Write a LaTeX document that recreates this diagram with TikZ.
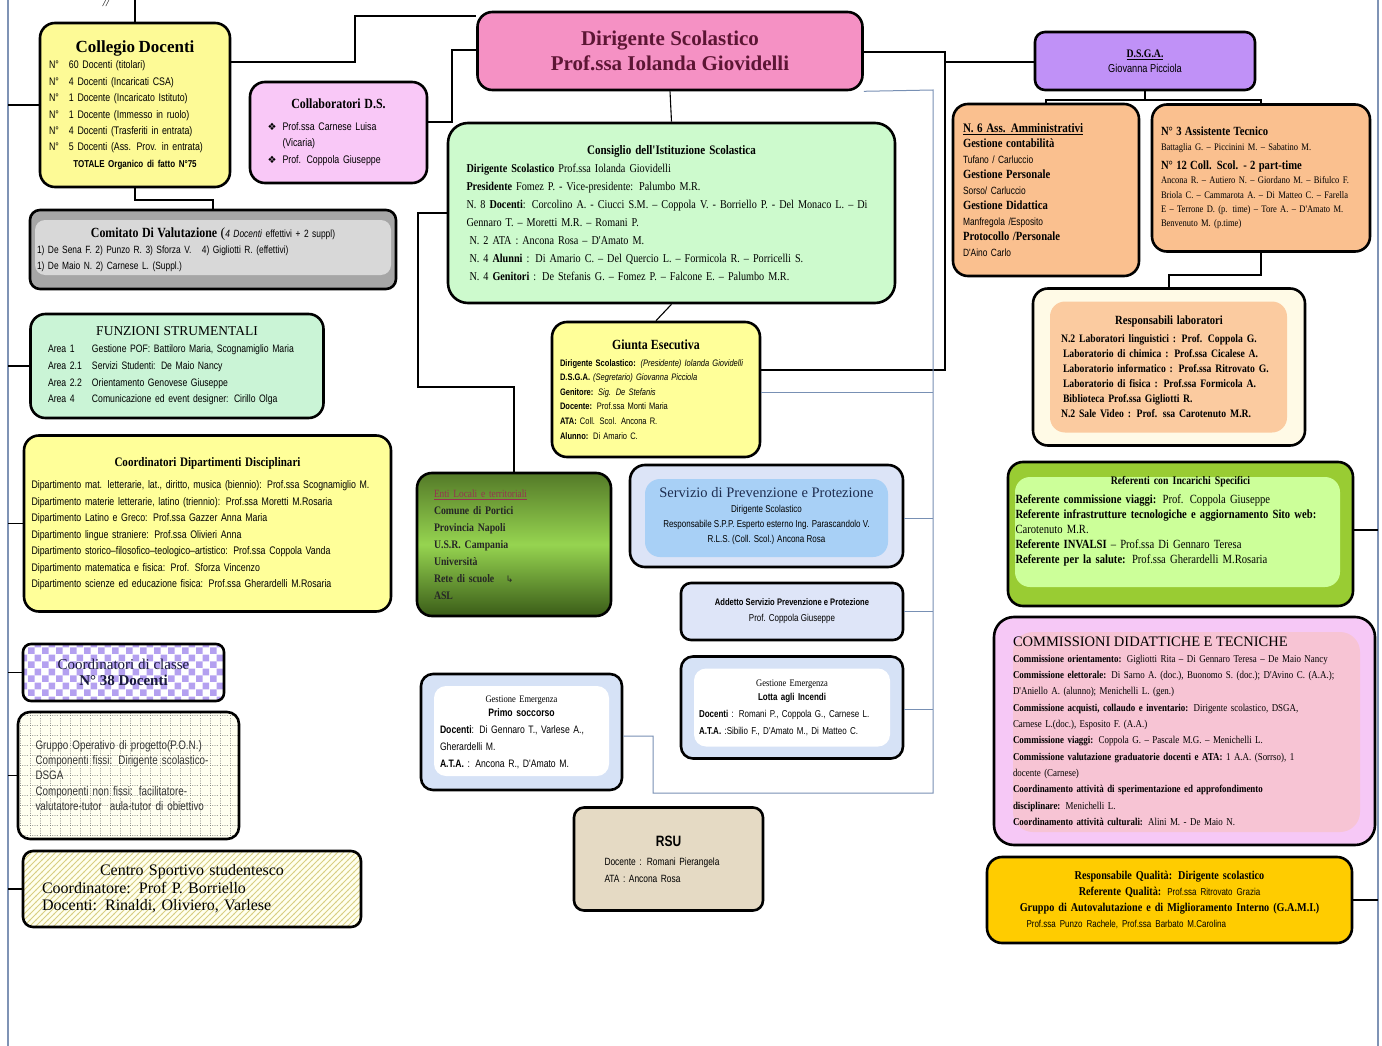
\documentclass[tikz,border=0pt]{standalone}
\usepackage{fontspec}
\setmainfont{Liberation Serif}
\newfontfamily\nsans[FakeStretch=0.8]{Liberation Sans}
\newfontfamily\nserif[FakeStretch=0.85]{Liberation Serif}
\newfontfamily\symf{DejaVu Sans}
\usepackage{tikz}
\usetikzlibrary{patterns.meta}

\definecolor{collyel}{RGB}{253,250,150}
\definecolor{dspink}{RGB}{245,145,196}
\definecolor{dsred}{RGB}{92,22,52}
\definecolor{collabpk}{RGB}{249,200,247}
\definecolor{dsgavi}{RGB}{192,145,247}
\definecolor{grayout}{RGB}{166,166,166}
\definecolor{grayin}{RGB}{216,216,216}
\definecolor{consgr}{RGB}{205,250,205}
\definecolor{peach}{RGB}{250,192,143}
\definecolor{labout}{RGB}{255,250,230}
\definecolor{labin}{RGB}{251,203,160}
\definecolor{funzgr}{RGB}{202,244,214}
\definecolor{yel}{RGB}{255,255,153}
\definecolor{entitop}{RGB}{84,122,40}
\definecolor{entimid}{RGB}{150,212,80}
\definecolor{entibot}{RGB}{58,92,24}
\definecolor{entititle}{RGB}{150,50,80}
\definecolor{sppout}{RGB}{220,228,247}
\definecolor{sppin}{RGB}{168,208,246}
\definecolor{sppnavy}{RGB}{30,45,80}
\definecolor{addbl}{RGB}{222,229,248}
\definecolor{checkpu}{RGB}{180,160,240}
\definecolor{navytxt}{RGB}{25,25,60}
\definecolor{gopbg}{RGB}{255,255,240}
\definecolor{dotgray}{RGB}{120,120,120}
\definecolor{sportbg}{RGB}{255,255,238}
\definecolor{hatchc}{RGB}{216,206,130}
\definecolor{emout}{RGB}{214,226,246}
\definecolor{rsubg}{RGB}{229,218,196}
\definecolor{refout}{RGB}{153,204,51}
\definecolor{refin}{RGB}{204,255,153}
\definecolor{commout}{RGB}{246,200,246}
\definecolor{commin}{RGB}{247,196,212}
\definecolor{qualy}{RGB}{255,204,0}
\definecolor{linkgray}{RGB}{120,144,180}
\definecolor{framegray}{RGB}{127,147,181}

\newcommand{\ttl}[1]{\makebox[\linewidth]{#1}}
\newcommand{\jl}[1]{\makebox[\linewidth][s]{#1}}
\newcommand{\nrow}[1]{\makebox[20pt][l]{#1}}
\newcommand{\areab}[1]{\makebox[44pt][l]{#1}}
\newcommand{\blt}{\makebox[15pt][l]{\symf\fontsize{10}{10}\selectfont ❖}}
\newcommand{\hdr}[1]{{\nserif\bfseries\fontsize{12.5}{12.5}\selectfont #1}}

\tikzdeclarepattern{
  name=checks, type=uncolored,
  bottom left={(0pt,0pt)}, top right={(14pt,14pt)}, tile size={(14pt,14pt)},
  code={\fill (0pt,0pt) rectangle (7pt,7pt); \fill (7pt,7pt) rectangle (14pt,14pt);}
}
\tikzdeclarepattern{
  name=dotgrid, type=uncolored,
  bottom left={(0pt,0pt)}, top right={(10pt,10pt)}, tile size={(10pt,10pt)},
  code={\foreach \k in {0,2.5,5,7.5}{\fill (\k pt,0pt) rectangle +(0.9pt,0.9pt); \fill (0pt,\k pt) rectangle +(0.9pt,0.9pt);}}
}
\tikzdeclarepattern{
  name=hatch, type=uncolored,
  bottom left={(-0.5pt,-0.5pt)}, top right={(6.5pt,6.5pt)}, tile size={(6pt,6pt)},
  code={\draw[line width=0.8pt] (-0.5pt,-0.5pt) -- (6.5pt,6.5pt);}
}

\begin{document}
\begin{tikzpicture}[x=1pt, y=-1pt,
	orgbox/.style={draw=black, line width=2.6pt, rounded corners=15pt, inner sep=0pt, align=left},
	boxsize/.style 2 args={minimum width=#1pt, minimum height=#2pt},
	inset/.style n args={5}{path picture={\fill[#1] ([xshift=#2,yshift=-#3]path picture bounding box.north west) rectangle ([xshift=-#4,yshift=#5]path picture bounding box.south east);}},
	link/.style={draw=black, line width=1.1pt},
	thin link/.style={draw=linkgray, line width=1pt},
	busline/.style={draw=framegray, line width=1.2pt}]
	\useasboundingbox[fill=white] (0,0) rectangle (1382,1046);

	\node	(nota)	at (106,3)	{\itshape\fontsize{11}{11}\selectfont //};

	\node	(coll)	[orgbox, boxsize={190}{164}, fill=collyel, text width=172pt, font=\nsans\fontsize{11}{16.4}\selectfont]	at (135,105)	{%
		\ttl{\rmfamily\bfseries\fontsize{17}{17}\selectfont Collegio Docenti}\\
		\nrow{N°}60 Docenti (titolari)\\
		\nrow{N°}4 Docenti (Incaricati CSA)\\
		\nrow{N°}1 Docente (Incaricato Istituto)\\
		\nrow{N°}1 Docente (Immesso in ruolo)\\
		\nrow{N°}4 Docenti (Trasferiti in entrata)\\
		\nrow{N°}5 Docenti (Ass. Prov. in entrata)\\
		\ttl{\bfseries\fontsize{10}{12}\selectfont TOTALE Organico di fatto N°75}};
	\node	(ds)	[orgbox, boxsize={385}{78}, fill=dspink, text=dsred, align=center, font=\rmfamily\bfseries\fontsize{21}{25}\selectfont]	at (670,51)	{Dirigente Scolastico\\Prof.ssa Iolanda Giovidelli};
	\node	(collab)	[orgbox, boxsize={177}{101}, fill=collabpk, text width=142pt, font=\nsans\fontsize{11}{16.5}\selectfont]	at (338.5,132.5)	{%
		\ttl{\nserif\bfseries\fontsize{14}{14}\selectfont Collaboratori D.S.}\\[5pt]
		\blt Prof.ssa Carnese Luisa\\
		\hspace*{15pt}(Vicaria)\\
		\blt Prof. Coppola Giuseppe};
	\node	(dsga)	[orgbox, rounded corners=10pt, boxsize={220}{58}, fill=dsgavi, align=center, font=\nsans\fontsize{11.5}{15}\selectfont]	at (1145,61)	{{\nserif\bfseries\underline{D.S.G.A.}}\\Giovanna Picciola};
	\node	(comit)	[orgbox, rounded corners=10pt, boxsize={366}{79}, fill=grayout, inset={grayin}{5pt}{10pt}{5pt}{14pt}, text width=352pt, font=\nsans\fontsize{10.5}{16}\selectfont]	at (213,249.5)	{%
		\ttl{{\nserif\bfseries\fontsize{14}{14}\selectfont Comitato Di Valutazione} {\rmfamily\fontsize{14}{14}\selectfont(}\textit{4 Docenti} effettivi + 2 suppl)}\\
		1) De Sena F. 2) Punzo R. 3) Sforza V.\quad 4) Gigliotti R. (effettivi)\\
		1) De Maio N. 2) Carnese L. (Suppl.)};
	\node	(cons)	[orgbox, rounded corners=20pt, boxsize={447}{180}, fill=consgr, text width=410pt, font=\nserif\fontsize{12}{18}\selectfont]	at (671.5,213)	{%
		\ttl{\bfseries\fontsize{13}{13}\selectfont Consiglio dell'Istituzione Scolastica}\\
		\textbf{Dirigente Scolastico} Prof.ssa Iolanda Giovidelli\\
		\textbf{Presidente} Fomez P. - Vice-presidente: Palumbo M.R.\\
		N. 8 \textbf{Docenti}: Corcolino A. - Ciucci S.M. – Coppola V. - Borriello P. - Del Monaco L. – Di\\
		Gennaro T. – Moretti M.R. – Romani P.\\
		\hspace*{3pt}N. 2 ATA : Ancona Rosa – D'Amato M.\\
		\hspace*{3pt}N. 4 \textbf{Alunni} : Di Amario C. – Del Quercio L. – Formicola R. – Porricelli S.\\
		\hspace*{3pt}N. 4 \textbf{Genitori} : De Stefanis G. – Fomez P. – Falcone E. – Palumbo M.R.};
	\node	(amm)	[orgbox, boxsize={186}{172}, fill=peach, text width=166pt, font=\nsans\fontsize{10.5}{15.5}\selectfont]	at (1046,190)	{%
		{\nserif\bfseries\fontsize{13}{13}\selectfont\underline{N. 6 Ass. Amministrativi}}\\
		\hdr{Gestione contabilità}\\
		Tufano / Carluccio\\
		\hdr{Gestione Personale}\\
		Sorso/ Carluccio\\
		\hdr{Gestione Didattica}\\
		Manfregola /Esposito\\
		\hdr{Protocollo /Personale}\\
		D'Aino Carlo};
	\node	(tec)	[orgbox, boxsize={218}{147}, fill=peach, text width=200pt, font=\nserif\fontsize{10}{14.3}\selectfont]	at (1261,178)	{%
		\hdr{N° 3 Assistente Tecnico}\\
		Battaglia G. – Piccinini M. – Sabatino M.\\[5pt]
		\hdr{N° 12 Coll. Scol. - 2 part-time}\\
		Ancona R. – Autiero N. – Giordano M. – Bifulco F.\\
		Briola C. – Cammarota A. – Di Matteo C. – Farella\\
		E – Terrone D. (p. time) – Tore A. – D'Amato M.\\
		Benvenuto M. (p.time)};
	\node	(lab)	[orgbox, boxsize={272}{157}, fill=labout, inset={labin}{17pt}{13pt}{18pt}{13pt}, text width=216pt, font=\nserif\bfseries\fontsize{11.4}{15}\selectfont]	at (1169,367)	{%
		\ttl{\fontsize{12.5}{12.5}\selectfont Responsabili laboratori}\\[3pt]
		N.2 Laboratori linguistici : Prof. Coppola G.\\
		\hspace*{2pt}Laboratorio di chimica : Prof.ssa Cicalese A.\\
		\hspace*{2pt}Laboratorio informatico : Prof.ssa Ritrovato G.\\
		\hspace*{2pt}Laboratorio di fisica : Prof.ssa Formicola A.\\
		\hspace*{2pt}Biblioteca Prof.ssa Gigliotti R.\\
		N.2 Sale Video : Prof. ssa Carotenuto M.R.};
	\node	(funz)	[orgbox, boxsize={293}{104}, fill=funzgr, text width=258pt, font=\nsans\fontsize{10.8}{16.7}\selectfont]	at (177,366)	{%
		\ttl{\rmfamily\fontsize{13.5}{13.5}\selectfont FUNZIONI STRUMENTALI}\\
		\areab{Area 1}Gestione POF: Battiloro Maria, Scognamiglio Maria\\
		\areab{Area 2.1}Servizi Studenti: De Maio Nancy\\
		\areab{Area 2.2}Orientamento Genovese Giuseppe\\
		\areab{Area 4}Comunicazione ed event designer: Cirillo Olga};
	\node	(giunta)	[orgbox, boxsize={208}{135}, fill=yel, text width=192pt, font=\nsans\fontsize{9.4}{14.6}\selectfont]	at (656,389.5)	{%
		\ttl{\nserif\bfseries\fontsize{14}{14}\selectfont Giunta Esecutiva}\\[2pt]
		\textbf{Dirigente Scolastico:} \textit{(Presidente) Iolanda Giovidelli}\\
		\textbf{D.S.G.A.} \textit{(Segretario) Giovanna Picciola}\\
		\textbf{Genitore:} \textit{Sig. De Stefanis}\\
		\textbf{Docente:} Prof.ssa Monti Maria\\
		\textbf{ATA:} Coll. Scol. Ancona R.\\
		\textbf{Alunno:} Di Amario C.};
	\node	(dip)	[orgbox, boxsize={367}{176}, fill=yel, text width=352pt, font=\nsans\fontsize{11}{16.5}\selectfont]	at (207.5,523.5)	{%
		\ttl{\nserif\bfseries\fontsize{13}{13}\selectfont Coordinatori Dipartimenti Disciplinari}\\[6pt]
		Dipartimento mat. letterarie, lat., diritto, musica (biennio): Prof.ssa Scognamiglio M.\\
		Dipartimento materie letterarie, latino (triennio): Prof.ssa Moretti M.Rosaria\\
		Dipartimento Latino e Greco: Prof.ssa Gazzer Anna Maria\\
		Dipartimento lingue straniere: Prof.ssa Olivieri Anna\\
		Dipartimento storico–filosofico–teologico–artistico: Prof.ssa Coppola Vanda\\
		Dipartimento matematica e fisica: Prof. Sforza Vincenzo\\
		Dipartimento scienze ed educazione fisica: Prof.ssa Gherardelli M.Rosaria};
	\node	(enti)	[orgbox, boxsize={194}{143}, top color=entitop, bottom color=entibot, middle color=entimid, text=black!85, text width=160pt, font=\nserif\bfseries\fontsize{11.5}{17}\selectfont]	at (514,544.5)	{%
		{\mdseries\fontsize{11}{11}\selectfont\color{entititle}\underline{Enti Locali e territoriali}}\\
		Comune di Portici\\
		Provincia Napoli\\
		U.S.R. Campania\\
		Università\\
		Rete di scuole\quad{\symf\mdseries\fontsize{9}{9}\selectfont ↳}\\
		ASL};
	\node	(spp)	[orgbox, boxsize={273}{102}, fill=sppout, inset={sppin}{15pt}{14pt}{15pt}{10pt}, align=center, font=\nsans\fontsize{10}{15}\selectfont]	at (766.5,516)	{%
		{\rmfamily\fontsize{14.5}{14.5}\selectfont\color{sppnavy}Servizio di Prevenzione e Protezione}\\
		Dirigente Scolastico\\
		Responsabile S.P.P. Esperto esterno Ing. Parascandolo V.\\
		R.L.S. (Coll. Scol.) Ancona Rosa};
	\node	(add)	[orgbox, rounded corners=10pt, boxsize={222}{57}, fill=addbl, align=center, font=\nsans\fontsize{10}{16}\selectfont]	at (792,611.5)	{%
		{\bfseries\fontsize{9.5}{9.5}\selectfont Addetto Servizio Prevenzione e Protezione}\\
		Prof. Coppola Giuseppe};
	\node	(classe)	[orgbox, rounded corners=8pt, boxsize={201}{57}, preaction={fill=white}, pattern=checks, pattern color=checkpu, align=center, text=navytxt, font=\rmfamily\fontsize{15}{16}\selectfont]	at (123.5,672.5)	{Coordinatori di classe\\\textbf{N° 38 Docenti}};
	\node	(gop)	[orgbox, rounded corners=12pt, boxsize={221}{127}, preaction={fill=gopbg}, pattern=dotgrid, pattern color=dotgray, text=black!80, text width=186pt, font=\nsans\fontsize{12.3}{15.3}\selectfont]	at (128.5,775.5)	{%
		Gruppo Operativo di progetto(P.O.N.)\\
		Componenti fissi: Dirigente scolastico-\\
		DSGA\\
		Componenti non fissi: facilitatore-\\
		valutatore-tutor\ \ aula-tutor di obiettivo};
	\node	(sport)	[orgbox, rounded corners=10pt, boxsize={338}{76}, preaction={fill=sportbg}, pattern=hatch, pattern color=hatchc, text width=300pt, font=\rmfamily\fontsize{16}{17.5}\selectfont]	at (192,889)	{%
		\ttl{Centro Sportivo studentesco}\\
		Coordinatore: Prof P. Borriello\\
		Docenti: Rinaldi, Oliviero, Varlese};
	\node	(primo)	[orgbox, rounded corners=12pt, boxsize={201}{116}, fill=emout, inset={white}{13pt}{12pt}{13pt}{14pt}, text width=163pt, font=\nsans\fontsize{10.8}{17}\selectfont]	at (521.5,732)	{%
		\ttl{\nserif\fontsize{10}{10}\selectfont Gestione Emergenza}\\[-3pt]
		\ttl{\bfseries Primo soccorso}\\
		\textbf{Docenti}: Di Gennaro T., Varlese A.,\\
		Gherardelli M.\\
		\textbf{A.T.A.} : Ancona R., D'Amato M.};
	\node	(fuoco)	[orgbox, rounded corners=12pt, boxsize={222}{102}, fill=emout, inset={white}{13pt}{12pt}{13pt}{12pt}, text width=186pt, font=\nsans\fontsize{10}{17}\selectfont]	at (792,707.5)	{%
		\ttl{\nserif\fontsize{10}{10}\selectfont Gestione Emergenza}\\[-3pt]
		\ttl{\bfseries Lotta agli Incendi}\\
		\textbf{Docenti} : Romani P., Coppola G., Carnese L.\\
		\textbf{A.T.A.} :Sibilio F., D'Amato M., Di Matteo C.};
	\node	(rsu)	[orgbox, rounded corners=10pt, boxsize={189}{103}, fill=rsubg, text width=128pt, font=\nsans\fontsize{10.5}{17}\selectfont]	at (668.5,859)	{%
		\ttl{\bfseries\fontsize{15}{15}\selectfont RSU}\\[2pt]
		Docente : Romani Pierangela\\
		ATA : Ancona Rosa};
	\node	(ref)	[orgbox, boxsize={345}{144}, fill=refout, inset={refin}{7pt}{15pt}{13pt}{19pt}, text width=330pt, font=\nserif\fontsize{12.5}{15}\selectfont]	at (1180.5,534)	{%
		\ttl{\bfseries\fontsize{11.5}{11.5}\selectfont Referenti con Incarichi Specifici}\\[4pt]
		\textbf{Referente commissione viaggi:} Prof. Coppola Giuseppe\\
		\textbf{Referente infrastrutture tecnologiche e aggiornamento Sito web:}\\
		Carotenuto M.R.\\
		\textbf{Referente INVALSI} – Prof.ssa Di Gennaro Teresa\\
		\textbf{Referente per la salute:} Prof.ssa Gherardelli M.Rosaria\\[13pt]
		\mbox{}};
	\node	(comm)	[orgbox, rounded corners=20pt, boxsize={381}{228}, fill=commout, inset={commin}{19pt}{15pt}{15pt}{13pt}, text width=343pt, font=\nserif\fontsize{10.5}{16.3}\selectfont]	at (1184.5,731)	{%
		{\rmfamily\fontsize{14.5}{14.5}\selectfont COMMISSIONI DIDATTICHE E TECNICHE}\\
		\jl{\textbf{Commissione orientamento:} Gigliotti Rita – Di Gennaro Teresa – De Maio Nancy}\\
		\jl{\textbf{Commissione elettorale:} Di Sarno A. (doc.), Buonomo S. (doc.); D'Avino C. (A.A.);}\\
		D'Aniello A. (alunno); Menichelli L. (gen.)\\
		\jl{\textbf{Commissione acquisti, collaudo e inventario:} Dirigente scolastico, DSGA,}\\
		Carnese L.(doc.), Esposito F. (A.A.)\\
		\textbf{Commissione viaggi:} Coppola G. – Pascale M.G. – Menichelli L.\\
		\jl{\textbf{Commissione valutazione graduatorie docenti e ATA:} 1 A.A. (Sorrso), 1}\\
		docente (Carnese)\\
		\jl{\textbf{Coordinamento attività di sperimentazione ed approfondimento}}\\
		\textbf{disciplinare:} Menichelli L.\\
		\textbf{Coordinamento attività culturali:} Alini M. - De Maio N.};
	\node	(qual)	[orgbox, boxsize={365}{86}, fill=qualy, text width=334pt, align=center, font=\nserif\bfseries\fontsize{12}{16}\selectfont]	at (1169.5,900)	{%
		Responsabile Qualità: Dirigente scolastico\\
		Referente Qualità: {\nsans\mdseries\fontsize{10}{10}\selectfont Prof.ssa Ritrovato Grazia}\\
		Gruppo di Autovalutazione e di Miglioramento Interno (G.A.M.I.)\\
		\makebox[\linewidth][l]{\hspace{24pt}\nsans\mdseries\fontsize{10}{10}\selectfont Prof.ssa Punzo Rachele, Prof.ssa Barbato M.Carolina}};

	\coordinate	(busL)	at (8,0);
	\coordinate	(busR)	at (1378,0);
	\draw[busline] (busL) -- (8,1046);
	\draw[busline] (busR) -- (1378,1046);
	\foreach \n in {coll,funz,dip,classe,gop,sport}
		\draw[link] (\n.west) -- (\n.west -| busL);
	\draw[link] (ref.east |- 0,530) -- (busR |- 0,530);
	\draw[link] (qual.east) -- (qual.east -| busR);
	\draw[link] (coll.north) -- (coll.north |- busL);

	\draw[link] (coll.east |- 0,62) -- (355,62) -- (355,16) -- (ds.west |- 0,16);
	\draw[link] (collab.east |- 0,122) -- (452,122) -- (452,50) -- (ds.west |- 0,50);
	\draw[link] (coll.south) -- (135,200) -- (213,200) -- (comit.north);
	\draw[link] (ds.south) -- (cons.north);
	\draw[link] (cons.south) -- (giunta.north);
	\draw[link] (cons.west) -- (418,213) -- (418,387) -- (514,387) -- (enti.north);
	\draw[link] (ds.east |- 0,52) -- (945,52) -- (945,62) -- (dsga.west |- 0,62);
	\draw[link] (945,52) -- (945,370) -- (giunta.east |- 0,370);
	\draw[link] (dsga.south) -- (1145,100) -| (amm.north);
	\draw[link] (1145,100) -| (tec.north);
	\draw[link] (tec.south) -- (1261,275) -| (lab.north);

	\draw[thin link] (ds.south east) -- (933,90) -- (933,793) -- (653,793) -- (653,736) -- (primo.east |- 0,736);
	\draw[thin link] (giunta.east |- 0,392) -- (933,392);
	\draw[thin link] (spp.east |- 0,518) -- (933,518);
	\draw[thin link] (add.east) -- (add.east -| 933,0);
	\draw[thin link] (fuoco.east |- 0,709) -- (933,709);
\end{tikzpicture}
\end{document}
